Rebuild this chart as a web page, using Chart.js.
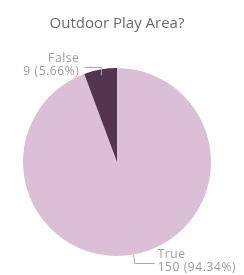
<!DOCTYPE html>
<html>
<head>
<meta charset="utf-8">
<script src="https://cdn.jsdelivr.net/npm/chart.js@4"></script>
<style>
  html, body { margin: 0; padding: 0; background: #fff; }
  #wrap { width: 244px; height: 275px; }
</style>
</head>
<body>
<div id="wrap"><canvas id="pieChart" width="244" height="275"></canvas></div>
<script>
const categories = ['True', 'False'];
const counts = [150, 9];
const sliceColors = ['#dabfd6', '#553450'];

const total = counts.reduce((a, b) => a + b, 0);

// callout labels with elbow leader lines
const calloutLabels = {
    id: 'calloutLabels',
    afterDraw(chart) {
        const ctx = chart.ctx;
        const arcs = chart.getDatasetMeta(0).data;
        ctx.save();
        ctx.font = '12px "Open Sans", sans-serif';
        ctx.letterSpacing = '0.6px';
        ctx.textBaseline = 'middle';
        arcs.forEach((arc, i) => {
            const p = arc.getProps(['x', 'y', 'startAngle', 'endAngle', 'outerRadius']);
            const mid = (p.startAngle + p.endAngle) / 2;
            const up = Math.sin(mid) < 0;
            const left = Math.cos(mid) < 0;
            const r = p.outerRadius - (up ? 6 : 0);
            const ex = p.x + Math.cos(mid) * r;
            const ey = p.y + Math.sin(mid) * r;
            const edgeY = p.y + Math.sin(mid) * p.outerRadius;
            const ky = edgeY + (up ? -2 : 9);
            const kx = ex + (left ? 0 : 1);
            const hx = kx + (left ? -17 : 20);

            ctx.strokeStyle = '#aaaaaa';
            ctx.lineWidth = 1;
            ctx.beginPath();
            ctx.moveTo(ex, ey);
            ctx.lineTo(kx, ky);
            ctx.lineTo(hx, ky);
            ctx.stroke();

            const pct = (counts[i] / total * 100).toFixed(2);
            ctx.fillStyle = '#9c9c9c';
            ctx.textAlign = left ? 'right' : 'left';
            const tx = hx + (left ? -5 : 3);
            ctx.fillText(categories[i], tx, ky - 9);
            ctx.fillText(counts[i] + ' (' + pct + '%)', tx, ky + 4);
        });
        ctx.restore();
    }
};

new Chart(document.getElementById('pieChart'), {
    type: 'pie',
    data: {
        labels: categories,
        datasets: [{
            data: counts,
            backgroundColor: sliceColors,
            borderWidth: 0
        }]
    },
    options: {
        responsive: false,
        animation: false,
        layout: { padding: { left: 23, right: 33, top: 0, bottom: 19 } },
        plugins: {
            legend: { display: false },
            tooltip: { enabled: false },
            title: {
                display: true,
                text: 'Outdoor Play Area?',
                color: '#6a6a6a',
                font: { family: '"Open Sans", sans-serif', size: 15, weight: 'normal' },
                padding: { top: 15, bottom: 35 }
            }
        }
    },
    plugins: [calloutLabels]
});
</script>
</body>
</html>
